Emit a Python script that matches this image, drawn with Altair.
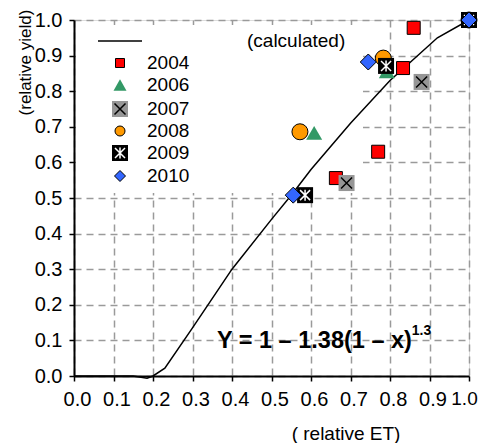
import altair as alt
import pandas as pd

# ---- data ----
years = ["2004", "2006", "2007", "2008", "2009", "2010"]

et_2004 = [0.663, 0.770, 0.833, 0.860, 1.0]
yl_2004 = [0.556, 0.630, 0.865, 0.978, 1.0]
et_2006 = [0.608, 0.792, 1.0]
yl_2006 = [0.683, 0.856, 1.0]
et_2007 = [0.690, 0.880, 1.0]
yl_2007 = [0.542, 0.826, 1.0]
et_2008 = [0.572, 0.783, 1.0]
yl_2008 = [0.686, 0.893, 1.0]
et_2009 = [0.585, 0.790, 1.0]
yl_2009 = [0.508, 0.871, 1.0]
et_2010 = [0.555, 0.745, 1.0]
yl_2010 = [0.508, 0.882, 1.0]

curve_x = [0.0, 0.10, 0.15, 0.185, 0.20, 0.23, 0.30, 0.40, 0.50, 0.555, 0.60, 0.70, 0.80, 0.85, 0.92, 1.00]
curve_y = [0.0, 0.0, 0.0, -0.006, 0.0, 0.022, 0.135, 0.30, 0.44, 0.515, 0.58, 0.71, 0.83, 0.88, 0.95, 1.00]

ticks = [0.0, 0.1, 0.2, 0.3, 0.4, 0.5, 0.6, 0.7, 0.8, 0.9, 1.0]

FONT = "Liberation Sans"
W, H = 395, 356

def df(xs, ys):
    return pd.DataFrame({"x": xs, "y": ys})

xs = alt.Scale(domain=[0, 1], nice=False, zero=False)
ys = alt.Scale(domain=[0, 1], nice=False, zero=False)

X = alt.X("x:Q", scale=xs, axis=alt.Axis(
    values=ticks, tickCount=30, format=".1f", title="( relative ET)", labelOverlap=False, labelFlush=False,
    labelFontSize={"condition": {"test": "datum.value >= 0.95", "value": 19}, "value": 20},
    labelColor="black", labelFont=FONT, labelPadding=8,
    labelOffset={"condition": {"test": "datum.value >= 0.95", "value": -5}, "value": 3},
    domainColor="black", domainWidth=2, tickColor="black", tickSize=5, tickWidth=1.5,
    grid=True, gridColor="#9a9a9a", gridDash=[7, 5], gridWidth=1.5,
    titleFont=FONT, titleFontSize=19, titleFontWeight="normal", titleColor="black",
    titleX=271.5, titleY=57, titleAlign="center", titleBaseline="middle"))
Y = alt.Y("y:Q", scale=ys, axis=alt.Axis(
    values=ticks, tickCount=30, format=".1f", title="(relative yield)", labelOverlap=False, labelFlush=False,
    labelFontSize=20, labelColor="black", labelFont=FONT, labelPadding=7,
    domainColor="black", domainWidth=2, tickColor="black", tickSize=5, tickWidth=1.5,
    grid=True, gridColor="#9a9a9a", gridDash=[7, 5], gridWidth=1.5,
    titleFont=FONT, titleFontSize=17, titleFontWeight="normal", titleColor="black",
    titleAngle=-90, titleX=-49, titleY=42, titleAlign="center", titleBaseline="middle"))

XPATH = "M-1,-1L1,1M-1,1L1,-1"
STAR = "M-1,-1L1,1M-1,1L1,-1M0,-1.1L0,1.1"

one = pd.DataFrame({"k": [0]})

# legend background (white box hiding the grid)
legend_bg = alt.Chart(one).mark_rect(color="white").encode(
    x=alt.value(2), x2=alt.value(289), y=alt.value(5), y2=alt.value(173))

curve = alt.Chart(df(curve_x, curve_y)).mark_line(color="black", strokeWidth=1.5).encode(x=X, y=Y)

def pts(xv, yv, **kw):
    return alt.Chart(df(xv, yv)).mark_point(**kw).encode(x=X, y=Y)

p2004 = pts(et_2004, yl_2004, shape="square", filled=True, fill="#ff0000", stroke="black", strokeWidth=1, size=169, opacity=1)
p2006 = pts(et_2006, yl_2006, shape="triangle-up", filled=True, fill="#339966", strokeWidth=0, size=256, opacity=1)
p2007a = pts(et_2007, yl_2007, shape="square", filled=True, fill="#969696", strokeWidth=0, size=256, opacity=1)
p2007b = pts(et_2007, yl_2007, shape=XPATH, filled=False, stroke="black", strokeWidth=1.5, size=121, opacity=1)
p2008 = pts(et_2008, yl_2008, shape="circle", filled=True, fill="#ff9900", stroke="black", strokeWidth=1, size=256, opacity=1)
p2009a = pts(et_2009, yl_2009, shape="square", filled=True, fill="black", strokeWidth=0, size=256, opacity=1)
p2009b = pts(et_2009, yl_2009, shape=STAR, filled=False, stroke="white", strokeWidth=1.5, size=100, opacity=1)
p2010 = pts(et_2010, yl_2010, shape="diamond", filled=True, fill="#3366ff", stroke="black", strokeWidth=1, size=256, opacity=1)

# ---- manual legend (pixel positions inside the plot area) ----
leg_sym_x = 46
leg_lab_x = 73
leg_rows = [43, 65, 89, 111, 133, 156]

def lsym(row, **kw):
    return alt.Chart(one).mark_point(opacity=1, **kw).encode(
        x=alt.value(leg_sym_x), y=alt.value(leg_rows[row]))

legend_layers = [
    alt.Chart(one).mark_rule(color="black", strokeWidth=1.5).encode(
        x=alt.value(24), x2=alt.value(68), y=alt.value(21)),
    alt.Chart(one).mark_text(text="(calculated)", font=FONT, fontSize=19, align="left",
                             baseline="middle", color="black").encode(
        x=alt.value(173), y=alt.value(21)),
    lsym(0, shape="square", filled=True, fill="#ff0000", stroke="black", strokeWidth=1, size=81),
    lsym(1, shape="triangle-up", filled=True, fill="#339966", strokeWidth=0, size=169),
    lsym(2, shape="square", filled=True, fill="#969696", strokeWidth=0, size=256),
    lsym(2, shape=XPATH, filled=False, stroke="black", strokeWidth=1.5, size=121),
    lsym(3, shape="circle", filled=True, fill="#ff9900", stroke="black", strokeWidth=1, size=100),
    lsym(4, shape="square", filled=True, fill="black", strokeWidth=0, size=256),
    lsym(4, shape=STAR, filled=False, stroke="white", strokeWidth=1.5, size=100),
    lsym(5, shape="diamond", filled=True, fill="#3366ff", stroke="black", strokeWidth=1, size=121),
]
for i, yr in enumerate(years):
    legend_layers.append(
        alt.Chart(one).mark_text(text=yr, font=FONT, fontSize=19, align="left",
                                 baseline="middle", color="black").encode(
            x=alt.value(leg_lab_x), y=alt.value(leg_rows[i])))

# ---- formula annotation ----
ann = pd.DataFrame({"x": [0.362], "y": [0.098], "t": ["Y = 1 \u2013 1.38(1 \u2013 x)"]})
sup = pd.DataFrame({"x": [0.855], "y": [0.126], "t": ["1.3"]})
formula = alt.Chart(ann).mark_text(font=FONT, fontSize=23.5, fontWeight="bold", align="left",
                                   baseline="middle", color="black").encode(x=X, y=Y, text="t:N")
formula_sup = alt.Chart(sup).mark_text(font=FONT, fontSize=14, fontWeight="bold", align="left",
                                       baseline="middle", color="black").encode(x=X, y=Y, text="t:N")

chart = alt.layer(
    legend_bg, curve, p2004, p2006, p2007a, p2007b, p2008, p2009a, p2009b, p2010,
    *legend_layers, formula, formula_sup
).properties(
    width=W, height=H,
    autosize=alt.AutoSizeParams(type="none"),
    padding={"left": 66, "top": 12, "right": 9, "bottom": 67},
).configure_view(stroke="#9a9a9a", strokeWidth=1.5).configure(background="white")

chart.save("out.html", embed_options={"renderer": "svg", "actions": False})
